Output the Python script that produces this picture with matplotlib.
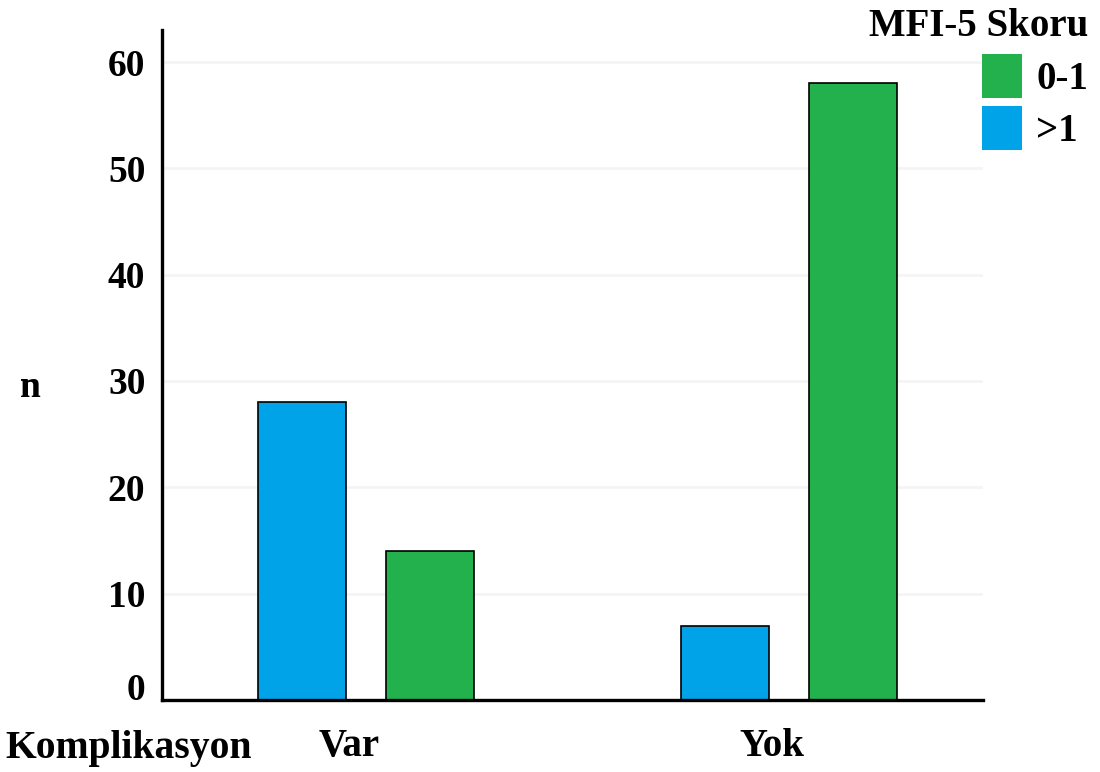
import numpy as np
import matplotlib
matplotlib.use("Agg")
import matplotlib.pyplot as plt

# -------------------------------
# Data
# -------------------------------
groups = ["Var", "Yok"]
score_high = [28, 7]    # >1 (blue)
score_low = [14, 58]    # 0-1 (green)
legend_title = "MFI-5 Skoru"
label_low = "0-1"
label_high = ">1"
yticks = [0, 10, 20, 30, 40, 50, 60]

blue = "#00a2e8"
green = "#22b14c"

plt.rcParams["font.family"] = ["Liberation Serif", "DejaVu Serif"]
plt.rcParams["font.weight"] = "bold"

fig = plt.figure(figsize=(11, 7.72), dpi=100)
ax = fig.add_axes([0.1473, 0.0933, 0.7463, 0.8677])

x = np.arange(len(groups))
w = 0.208
off = 0.152

# faint grid lines
for t in yticks[1:]:
    ax.axhline(t, color="#f4f4f4", lw=2, zorder=0)

b1 = ax.bar(x - off, score_high, w, color=blue, edgecolor="black", linewidth=1.2, zorder=2)
b2 = ax.bar(x + off, score_low, w, color=green, edgecolor="black", linewidth=1.2, zorder=2)

ax.set_xlim(-0.482, 1.459)
ax.set_ylim(0, 63)
ax.set_yticks(yticks)
ax.set_xticks(x - 0.04)
ax.set_xticklabels(groups, fontsize=28)
ax.tick_params(axis="both", length=0)
ax.tick_params(axis="y", pad=12, labelsize=27)
ax.tick_params(axis="x", pad=20)
for lab in ax.get_xticklabels() + ax.get_yticklabels():
    lab.set_fontweight("bold")
ax.get_yticklabels()[0].set_va("baseline")

for s in ["top", "right"]:
    ax.spines[s].set_visible(False)
for s in ["left", "bottom"]:
    ax.spines[s].set_linewidth(2.4)
    ax.spines[s].set_color("black")

ax.set_ylabel("n", rotation=0, fontsize=27, fontweight="bold")
ax.yaxis.set_label_coords(-0.16, 0.44)

fig.text(0.005, 0.018, "Komplikasyon", fontsize=28.5, fontweight="bold", ha="left", va="baseline")

leg = fig.legend([b2, b1], [label_low, label_high], title=legend_title,
                 loc="upper right", bbox_to_anchor=(1.012, 1.022), frameon=False,
                 fontsize=28, title_fontsize=28, handlelength=1.05, handleheight=1.35,
                 labelspacing=0.22, handletextpad=0.35, borderpad=0.15,
                 alignment="right")
leg.get_title().set_fontweight("bold")
for t in leg.get_texts():
    t.set_fontweight("bold")
for h in leg.legend_handles:
    h.set_edgecolor("none")

fig.savefig("out.png", dpi=100)
